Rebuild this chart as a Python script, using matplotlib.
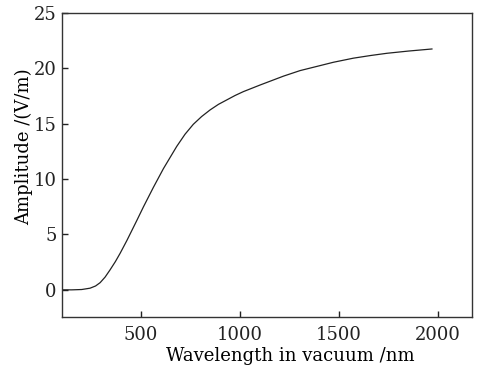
import numpy as np
from matplotlib import pyplot as plt

# values
wavelength = [100, 150, 200, 242, 270, 293, 318, 343, 370, 394, 428, 478, 512, 562, 613,
              680, 722, 764, 806, 849, 891, 933, 975, 1017, 1102, 1220, 1304, 1405,
              1472, 1573, 1660, 1742, 1850, 1970]
amplitude = [0.0, 0.0, 0.03, 0.15, 0.35, 0.65, 1.15, 1.8, 2.55, 3.3, 4.45, 6.25, 7.5, 9.25, 10.95,
             12.95, 14.05, 14.95, 15.65, 16.25, 16.75, 17.15, 17.55, 17.9, 18.5, 19.3, 19.8, 20.25,
             20.55, 20.92, 21.16, 21.36, 21.56, 21.75]
xticks = [500, 1000, 1500, 2000]
yticks = [0, 5, 10, 15, 20, 25]

plt.rcParams['font.family'] = ['DejaVu Serif']

fig = plt.figure(figsize=(4.84, 3.71), dpi=100)
ax = fig.add_axes([0.128, 0.1456, 0.847, 0.8194])

ax.plot(wavelength, amplitude, color='#222222', linewidth=0.9)

ax.set_xlim(100, 2172)
ax.set_ylim(-2.45, 25)
ax.set_xticks(xticks)
ax.set_yticks(yticks)
ax.tick_params(direction='in', length=4, width=1, labelsize=13, colors='#222222')
ax.tick_params(axis='x', pad=6.5)
ax.tick_params(axis='y', pad=4)
ax.set_xlabel("Wavelength in vacuum /nm", fontsize=13, labelpad=2, x=0.556)
ax.set_ylabel("Amplitude /(V/m)", fontsize=13, labelpad=0.5, y=0.559)
for s in ax.spines.values():
    s.set_color('#333333')
    s.set_linewidth(1.0)

fig.savefig('out.png', dpi=100)
